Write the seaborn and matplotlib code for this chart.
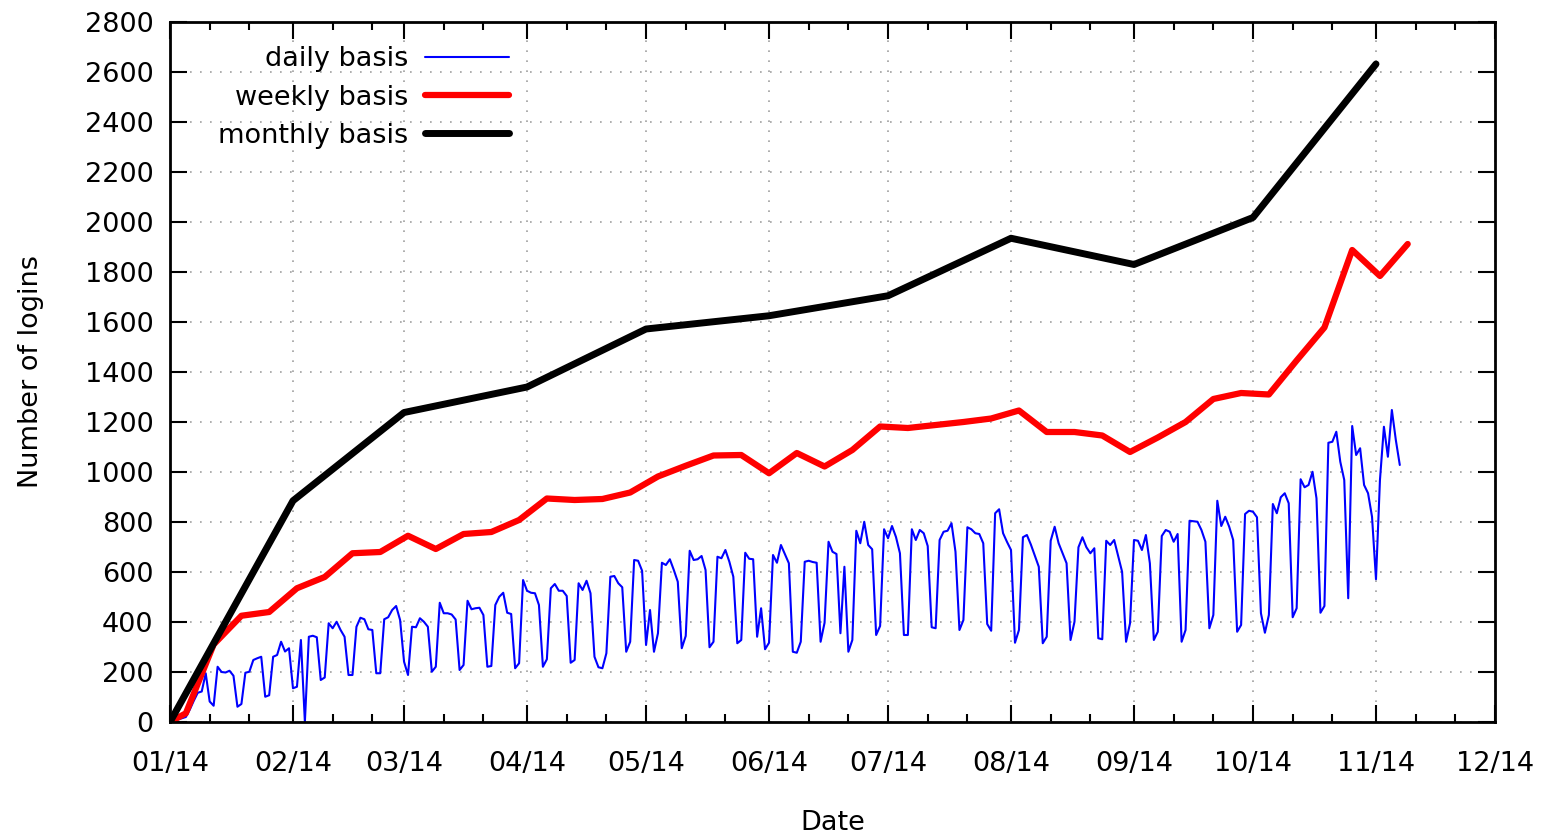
import pandas as pd
import seaborn as sns
import matplotlib.pyplot as plt
import matplotlib.dates as mdates

# logins per day, 2014-01-01 onwards
daily_logins = [
    0, 5, 10, 15, 20, 50, 85, 117, 122, 195, 82, 65,
    221, 200, 198, 205, 185, 61, 72, 197, 201, 248, 255, 261, 101, 107,
    261, 268, 321, 282, 295, 135, 141, 328, 0, 341, 345, 339, 168, 178,
    395, 375, 401, 368, 341, 188, 188, 381, 417, 411, 371, 368, 195, 195,
    411, 419, 448, 464, 408, 241, 188, 381, 379, 415, 401, 381, 201, 221,
    477, 435, 435, 430, 410, 208, 228, 485, 451, 455, 457, 428, 221, 224,
    468, 501, 517, 437, 432, 215, 235, 568, 525, 517, 515, 468, 221, 251,
    535, 552, 525, 525, 504, 237, 248, 555, 528, 565, 515, 261, 219, 215,
    275, 581, 584, 555, 539, 281, 321, 648, 645, 605, 308, 448, 281, 355,
    637, 628, 651, 608, 561, 295, 344, 685, 648, 651, 664, 608, 299, 321,
    661, 655, 688, 641, 581, 315, 328, 677, 653, 651, 341, 455, 291, 317,
    668, 637, 708, 672, 635, 281, 277, 321, 641, 645, 640, 637, 321, 397,
    721, 681, 672, 355, 621, 281, 328, 765, 715, 801, 708, 691, 348, 384,
    771, 735, 784, 740, 675, 348, 348, 771, 728, 768, 755, 704, 379, 375,
    728, 761, 765, 795, 681, 368, 408, 779, 771, 755, 752, 715, 392, 365,
    835, 851, 755, 720, 688, 317, 368, 739, 748, 710, 665, 621, 315, 341,
    725, 781, 715, 675, 635, 328, 401, 699, 739, 699, 675, 695, 335, 331,
    725, 708, 728, 665, 601, 321, 395, 728, 725, 688, 748, 635, 328, 361,
    744, 768, 761, 721, 752, 321, 368, 805, 803, 801, 768, 721, 375, 428,
    885, 784, 821, 781, 728, 361, 388, 832, 845, 841, 819, 435, 357, 428,
    872, 835, 899, 915, 875, 419, 455, 971, 939, 948, 1001, 895, 437, 464,
    1117, 1121, 1161, 1041, 968, 495, 1184, 1068, 1095, 948, 915, 821, 571, 968,
    1181, 1061, 1248, 1128, 1028,
]

# logins per week: 2014-01-01, then every Sunday from 2014-01-05
weekly_logins = [
    0, 35, 310, 425, 440, 535, 580, 675, 680, 745, 692, 752, 760, 808,
    894, 888, 892, 918, 982, 1025, 1066, 1068, 995, 1076, 1022, 1088,
    1182, 1176, 1188, 1200, 1214, 1246, 1160, 1160, 1146, 1080, 1138,
    1200, 1292, 1316, 1310, 1446, 1578, 1888, 1784, 1912,
]

# logins per month, first of each month
monthly_logins = [0, 885, 1238, 1340, 1572, 1625, 1705, 1935, 1830, 2018, 2632]

daily_dates = pd.date_range("2014-01-01", periods=len(daily_logins), freq="D")
weekly_dates = pd.DatetimeIndex(["2014-01-01"]).append(
    pd.date_range("2014-01-05", periods=len(weekly_logins) - 1, freq="7D"))
monthly_dates = pd.date_range("2014-01-01", periods=len(monthly_logins), freq="MS")

sns.set_style("ticks")
plt.rcParams["font.family"] = ["DejaVu Sans"]
plt.rcParams["font.size"] = 19.5
plt.rcParams["text.color"] = "black"
plt.rcParams["axes.labelcolor"] = "black"

fig = plt.figure(figsize=(15.52, 8.33), dpi=100)
ax = fig.add_axes([170 / 1552, 1 - 722 / 833, 1325 / 1552, 700 / 833])

sns.lineplot(x=daily_dates, y=daily_logins, color="#0000ff", linewidth=1.5,
             label="daily basis", ax=ax)
sns.lineplot(x=weekly_dates, y=weekly_logins, color="#ff0000", linewidth=4.5,
             label="weekly basis", ax=ax)
sns.lineplot(x=monthly_dates, y=monthly_logins, color="black", linewidth=5,
             label="monthly basis", ax=ax)

ax.set_xlim(pd.Timestamp("2014-01-01"), pd.Timestamp("2014-12-01"))
ax.set_ylim(0, 2800)
ax.set_yticks(range(0, 2801, 200))
ax.xaxis.set_major_locator(mdates.MonthLocator())
ax.xaxis.set_major_formatter(mdates.DateFormatter("%m/%y"))
ax.xaxis.set_minor_locator(mdates.DayLocator(bymonthday=[11, 21]))

ax.tick_params(which="both", direction="in", top=True, right=True,
               colors="black", labelsize=19.5, width=1.5)
ax.tick_params(which="major", length=12)
ax.tick_params(which="minor", length=6)
ax.tick_params(axis="x", pad=21)
ax.tick_params(axis="y", pad=12)
for s in ax.spines.values():
    s.set_color("black")
    s.set_linewidth(2)

ax.grid(True, which="major", color="#a0a0a0", linestyle=(0, (1, 5)), linewidth=1.2)

ax.set_xlabel("Date", fontsize=19.5)
ax.set_ylabel("Number of logins", fontsize=19.5)
ax.xaxis.set_label_coords(0.5, -0.125)
ax.yaxis.set_label_coords(-0.095, 0.5)

leg = ax.legend(loc="upper right", bbox_to_anchor=(0.2555, 0.965), markerfirst=False,
                frameon=False, fontsize=19.5, handlelength=3.1, handletextpad=0.6,
                labelspacing=0.45, borderpad=0, borderaxespad=0)

fig.savefig("out.png", dpi=100)
